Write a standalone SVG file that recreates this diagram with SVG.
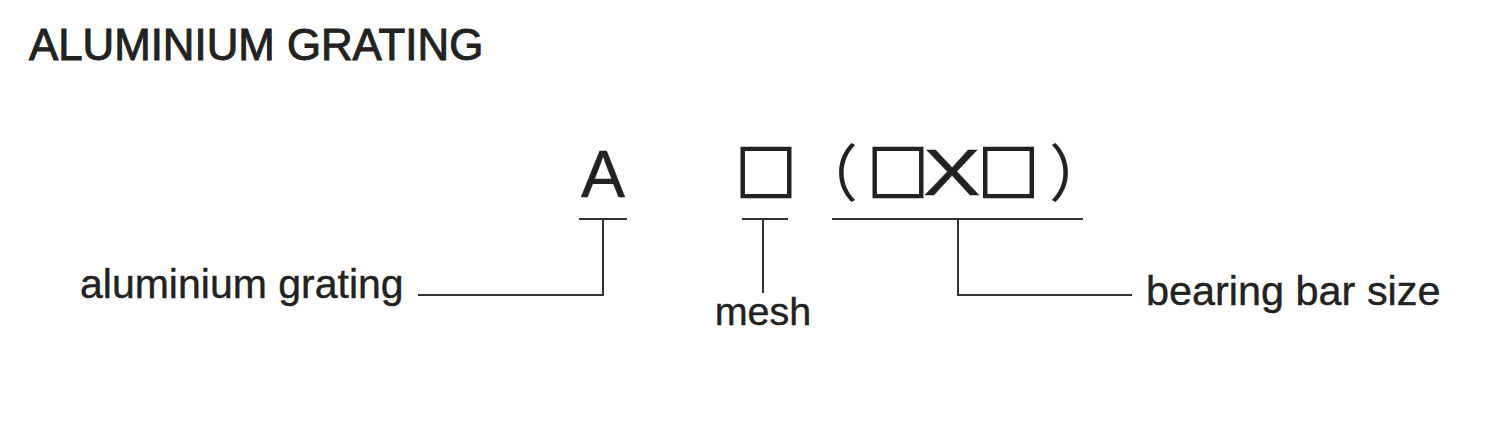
<svg xmlns="http://www.w3.org/2000/svg" width="1505" height="440" viewBox="0 0 1505 440">
<style>
.t{font-family:"Liberation Sans",Arial,sans-serif;fill:#222;stroke:#222;stroke-width:0.4}
.cjk{font-family:"Noto Sans CJK SC","Liberation Sans",sans-serif;fill:#222}
.sq{stroke:#222;stroke-width:2.2}
.ln{stroke:#333;stroke-width:2;fill:none}
</style>
<rect width="1505" height="440" fill="#ffffff"/>
<g id="title"><text class="t" x="29" y="60" font-size="43.8" style="stroke-width:1">ALUMINIUM GRATING</text></g>
<g id="code">
<text class="t" x="603" y="197" font-size="66" text-anchor="middle">A</text>
<text class="cjk sq" x="766" y="196" font-size="61" text-anchor="middle">□</text>
<text class="cjk" x="827" y="197" font-size="62" text-anchor="middle">（</text>
<text class="cjk sq" x="898" y="196" font-size="61" text-anchor="middle">□</text>
<text class="t" x="951.7" y="195" font-size="64" text-anchor="middle" transform="translate(951.7 0) scale(1.35 1) translate(-951.7 0)">X</text>
<text class="cjk sq" x="1008.6" y="196" font-size="61" text-anchor="middle">□</text>
<text class="cjk" x="1080" y="197" font-size="62" text-anchor="middle">）</text>
</g>
<g id="label-aluminium"><text class="t" x="80" y="298" font-size="41">aluminium grating</text></g>
<g id="label-mesh"><text class="t" x="763" y="325" font-size="39.5" text-anchor="middle">mesh</text></g>
<g id="label-bearing"><text class="t" x="1146" y="305" font-size="41.4">bearing bar size</text></g>
<g id="connectors">
<path class="ln" d="M579 219H627M603 219V295H418"/>
<path class="ln" d="M742 219H788M763 219V293"/>
<path class="ln" d="M832 219H1083M958 219V295H1132"/>
</g>
</svg>
